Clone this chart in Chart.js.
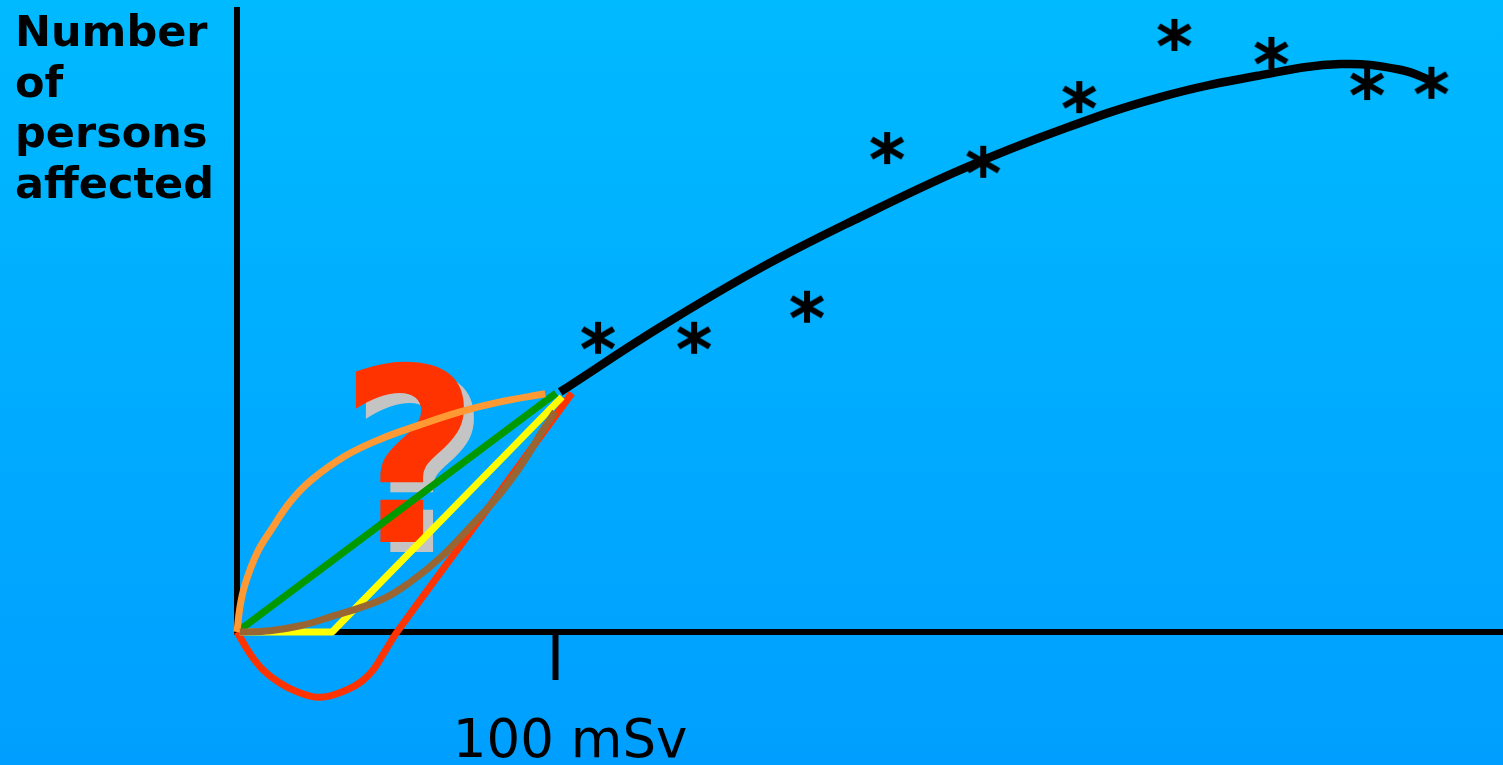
<!DOCTYPE html>
<html>
<head>
<meta charset="utf-8">
<script src="https://cdn.jsdelivr.net/npm/chart.js@4"></script>
<style>
html, body { margin: 0; padding: 0; }
body {
    width: 1503px;
    height: 765px;
    overflow: hidden;
    background: linear-gradient(to bottom, #00BAFF, #009FFF);
}
</style>
</head>
<body>
<canvas id="dose_response_chart" width="1503" height="765"></canvas>
<script>
// D A T A   (x in mSv, y in relative units 0..100)
// observed cases (asterisks)
const observed_x = [113.5, 143.7, 179.2, 204.4, 234.6, 264.8, 294.7, 325.2, 355.3, 375.5];
const observed_y = [47.3, 47.3, 52.3, 77.8, 75.6, 86.0, 96.0, 93.1, 88.1, 88.3];

// fitted curve above 100 mSv
const fit_x = [101.6, 133.0, 164.5, 195.9, 227.4, 258.8, 290.3, 321.7, 346.9, 365.7, 376.7];
const fit_y = [38.6, 49.0, 58.5, 66.7, 74.3, 80.7, 86.0, 89.5, 91.3, 90.4, 88.4];

// possible low-dose extrapolations
const supralinear_x = [0, 0.9, 2.5, 6.3, 10.7, 16.7, 23.3, 34.0, 45.0, 57.5, 70.1, 82.7, 96.9];
const supralinear_y = [0, 3.9, 7.6, 12.7, 16.4, 20.9, 24.4, 28.3, 31.0, 33.3, 35.4, 37.0, 38.3];
const linear_x = [0.8, 100.3];
const linear_y = [0.3, 38.4];
const threshold_x = [0.9, 29.9, 102.2];
const threshold_y = [0, 0, 37.8];
const quadratic_x = [0.9, 10.4, 19.8, 29.2, 45.0, 54.4, 63.8, 73.3, 82.7, 89.9, 96.2, 100.0];
const quadratic_y = [0, 0.2, 1.0, 2.4, 5.1, 8.0, 11.9, 16.9, 22.2, 27.2, 32.5, 35.4];
const hormesis_x = [0, 4.1, 8.2, 13.5, 18.9, 26.1, 34.6, 39.3, 42.8, 46.5, 50.3, 78.0, 105.3];
const hormesis_y = [0, -3.5, -6.1, -8.2, -9.6, -10.5, -9.3, -7.9, -6.1, -3.1, 0, 19.3, 38.4];

const x_tick_values = [100];
const x_tick_label = '100 mSv';
const y_title_lines = ['Number', 'of', 'persons', 'affected'];

const to_points = (xs, ys) => xs.map((x, i) => ({ x: x, y: ys[i] }));

// asterisk marker (6 spokes)
const asterisk = document.createElement('canvas');
asterisk.width = 40;
asterisk.height = 40;
(function () {
    const c = asterisk.getContext('2d');
    c.strokeStyle = '#000';
    c.lineWidth = 6;
    c.beginPath();
    c.moveTo(20, 4); c.lineTo(20, 36);
    c.moveTo(4.5, 11); c.lineTo(35.5, 29);
    c.moveTo(35.5, 11); c.lineTo(4.5, 29);
    c.stroke();
})();

// y title drawn in the left margin
const y_title_plugin = {
    id: 'y_title_plugin',
    afterDraw(chart) {
        const ctx = chart.ctx;
        ctx.save();
        ctx.fillStyle = '#000';
        ctx.font = 'bold 43px "DejaVu Sans"';
        ctx.textBaseline = 'alphabetic';
        y_title_lines.forEach((line, i) => {
            ctx.fillText(line, 15, 46 + i * 50.7);
        });
        ctx.restore();
    }
};

// big question mark behind the low-dose curves
const question_plugin = {
    id: 'question_plugin',
    beforeDatasetsDraw(chart) {
        const ctx = chart.ctx;
        const x = chart.scales.x.getPixelForValue(54.2);
        const y = chart.scales.y.getPixelForValue(14.4);
        ctx.save();
        ctx.font = 'bold 242px "DejaVu Sans"';
        ctx.textAlign = 'center';
        ctx.textBaseline = 'alphabetic';
        ctx.fillStyle = '#C4C4C4';
        ctx.fillText('?', x + 10, y + 10);
        ctx.fillStyle = '#FF3300';
        ctx.fillText('?', x, y);
        ctx.restore();
    }
};

const line_set = (label, xs, ys, color, width, tension) => ({
    label: label,
    data: to_points(xs, ys),
    borderColor: color,
    borderWidth: width,
    pointRadius: 0,
    fill: false,
    tension: tension,
    capBezierPoints: false,
    borderJoinStyle: 'round',
    clip: false
});

const dose_response_chart = document.getElementById('dose_response_chart');
new Chart(dose_response_chart, {
    type: 'line',
    data: {
        datasets: [
            {
                label: 'Observed',
                data: to_points(observed_x, observed_y),
                pointStyle: asterisk,
                pointRadius: 20,
                showLine: false,
                clip: false
            },
            line_set('Fit', fit_x, fit_y, '#000000', 8.5, 0.4),
            line_set('Quadratic', quadratic_x, quadratic_y, '#996633', 7, 0.4),
            line_set('Supralinear', supralinear_x, supralinear_y, '#FF9933', 7, 0.4),
            line_set('Linear', linear_x, linear_y, '#009900', 7, 0),
            line_set('Threshold', threshold_x, threshold_y, '#FFFF00', 7, 0),
            line_set('Hormesis', hormesis_x, hormesis_y, '#FF3300', 7, 0.4)
        ]
    },
    options: {
        responsive: false,
        animation: false,
        layout: { autoPadding: false, padding: { top: 10, right: 0, left: 0, bottom: 0 } },
        scales: {
            x: {
                type: 'linear',
                min: 0,
                max: 398,
                afterFit: s => { s.height = 133; },
                afterBuildTicks: s => { s.ticks = x_tick_values.map(v => ({ value: v })); },
                ticks: {
                    autoSkip: false,
                    maxRotation: 0,
                    padding: 31,
                    labelOffset: 15,
                    color: '#000',
                    font: { family: 'DejaVu Sans', size: 53 },
                    callback: () => x_tick_label
                },
                grid: {
                    display: true,
                    drawOnChartArea: false,
                    drawTicks: true,
                    tickLength: 48,
                    tickWidth: 6,
                    tickColor: '#000'
                },
                border: { display: true, color: '#000', width: 6 }
            },
            y: {
                type: 'linear',
                min: 0,
                max: 100,
                afterFit: s => { s.width = 237; },
                ticks: { display: false },
                grid: { display: false },
                border: { display: true, color: '#000', width: 6 }
            }
        },
        plugins: {
            legend: { display: false },
            tooltip: { enabled: false }
        }
    },
    plugins: [y_title_plugin, question_plugin]
});
</script>
</body>
</html>
